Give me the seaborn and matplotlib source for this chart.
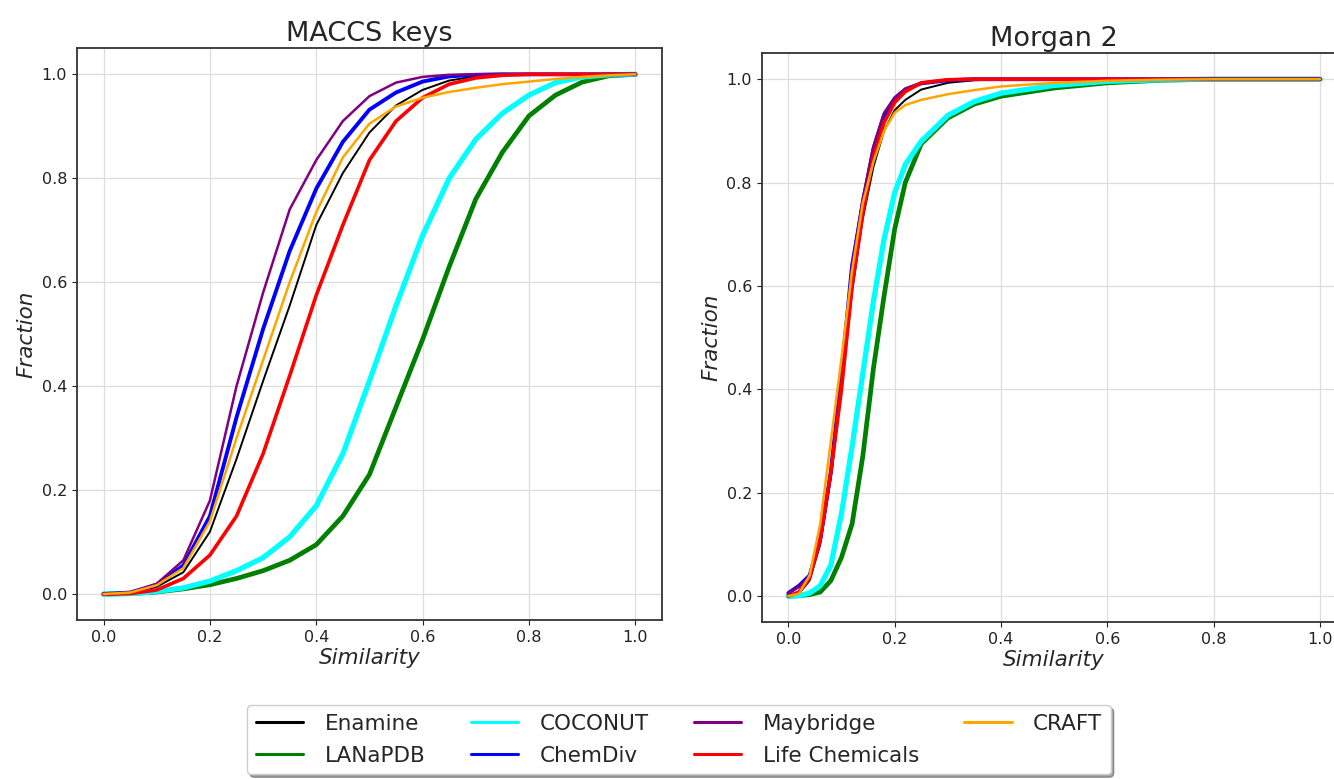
import seaborn as sns
import matplotlib
matplotlib.use("Agg")
import matplotlib.pyplot as plt
import numpy as np
import pandas as pd

# libraries in legend order
names = ['Enamine', 'LANaPDB', 'COCONUT', 'ChemDiv', 'Maybridge', 'Life Chemicals', 'CRAFT']
colors = {'Enamine': 'black', 'LANaPDB': 'green', 'COCONUT': 'cyan', 'ChemDiv': 'blue',
          'Maybridge': 'purple', 'Life Chemicals': 'red', 'CRAFT': 'orange'}
lws = {'Enamine': 1.4, 'LANaPDB': 3.4, 'COCONUT': 3.8, 'ChemDiv': 2.8,
       'Maybridge': 1.8, 'Life Chemicals': 2.6, 'CRAFT': 1.8}

# MACCS keys: cumulative fraction read at these similarity values
x_maccs = [0, 0.05, 0.1, 0.15, 0.2, 0.25, 0.3, 0.35, 0.4, 0.45, 0.5,
           0.55, 0.6, 0.65, 0.7, 0.75, 0.8, 0.85, 0.9, 0.95, 1.0]
maccs_enamine = [0, 0.002, 0.014, 0.042, 0.12, 0.26, 0.41, 0.555, 0.71, 0.81, 0.888,
                 0.94, 0.97, 0.988, 0.996, 1.0, 1.0, 1.0, 1.0, 1.0, 1.0]
maccs_lanapdb = [0, 0.001, 0.004, 0.01, 0.018, 0.03, 0.045, 0.065, 0.095, 0.15, 0.23,
                 0.36, 0.49, 0.63, 0.76, 0.85, 0.92, 0.96, 0.985, 0.997, 1.0]
maccs_coconut = [0, 0.001, 0.005, 0.012, 0.025, 0.045, 0.07, 0.11, 0.17, 0.27, 0.41,
                 0.555, 0.69, 0.8, 0.875, 0.925, 0.96, 0.984, 0.995, 0.999, 1.0]
maccs_chemdiv = [0, 0.003, 0.018, 0.055, 0.15, 0.34, 0.51, 0.66, 0.78, 0.87, 0.932,
                 0.965, 0.986, 0.996, 0.999, 1.0, 1.0, 1.0, 1.0, 1.0, 1.0]
maccs_maybridge = [0, 0.003, 0.02, 0.065, 0.18, 0.4, 0.58, 0.74, 0.835, 0.91, 0.958,
                   0.984, 0.995, 0.999, 1.0, 1.0, 1.0, 1.0, 1.0, 1.0, 1.0]
maccs_lifechem = [0, 0.001, 0.008, 0.03, 0.075, 0.15, 0.27, 0.42, 0.575, 0.71, 0.835,
                  0.91, 0.955, 0.981, 0.993, 0.998, 1.0, 1.0, 1.0, 1.0, 1.0]
maccs_craft = [0, 0.003, 0.017, 0.05, 0.14, 0.3, 0.45, 0.6, 0.735, 0.84, 0.905,
               0.938, 0.955, 0.966, 0.974, 0.981, 0.986, 0.991, 0.995, 0.998, 1.0]

# Morgan 2
x_morgan = [0, 0.02, 0.04, 0.06, 0.08, 0.1, 0.12, 0.14, 0.16, 0.18, 0.2,
            0.22, 0.25, 0.3, 0.35, 0.4, 0.5, 0.6, 0.7, 0.8, 1.0]
morgan_enamine = [0, 0.005, 0.03, 0.1, 0.23, 0.4, 0.59, 0.73, 0.83, 0.9, 0.94,
                  0.96, 0.98, 0.993, 0.998, 1.0, 1.0, 1.0, 1.0, 1.0, 1.0]
morgan_lanapdb = [0, 0.001, 0.003, 0.008, 0.03, 0.075, 0.14, 0.27, 0.44, 0.58, 0.71,
                  0.8, 0.875, 0.925, 0.952, 0.967, 0.983, 0.993, 0.998, 1.0, 1.0]
morgan_coconut = [0, 0.001, 0.006, 0.02, 0.06, 0.16, 0.29, 0.43, 0.57, 0.69, 0.78,
                  0.835, 0.88, 0.93, 0.957, 0.973, 0.988, 0.996, 0.999, 1.0, 1.0]
morgan_chemdiv = [0.006, 0.02, 0.04, 0.11, 0.24, 0.43, 0.64, 0.76, 0.865, 0.93, 0.962,
                  0.98, 0.992, 0.998, 1.0, 1.0, 1.0, 1.0, 1.0, 1.0, 1.0]
morgan_maybridge = [0.006, 0.018, 0.038, 0.105, 0.24, 0.43, 0.64, 0.77, 0.87, 0.935, 0.965,
                    0.982, 0.993, 0.999, 1.0, 1.0, 1.0, 1.0, 1.0, 1.0, 1.0]
morgan_lifechem = [0, 0.008, 0.035, 0.11, 0.24, 0.4, 0.6, 0.74, 0.85, 0.916, 0.955,
                   0.976, 0.993, 0.999, 1.0, 1.0, 1.0, 1.0, 1.0, 1.0, 1.0]
morgan_craft = [0, 0.005, 0.04, 0.14, 0.3, 0.46, 0.63, 0.76, 0.84, 0.9, 0.935,
                0.95, 0.96, 0.971, 0.979, 0.986, 0.993, 0.997, 0.999, 1.0, 1.0]

maccs = [maccs_enamine, maccs_lanapdb, maccs_coconut, maccs_chemdiv,
         maccs_maybridge, maccs_lifechem, maccs_craft]
morgan = [morgan_enamine, morgan_lanapdb, morgan_coconut, morgan_chemdiv,
          morgan_maybridge, morgan_lifechem, morgan_craft]


def make_df(xs, series):
    rows = []
    for name, ys in zip(names, series):
        for x, y in zip(xs, ys):
            rows.append((name, x, y))
    return pd.DataFrame(rows, columns=['library', 'Similarity', 'Fraction'])


df_maccs = make_df(x_maccs, maccs)
df_morgan = make_df(x_morgan, morgan)

sns.set_style("ticks")
plt.rcParams['font.family'] = ['DejaVu Sans']

fig = plt.figure(figsize=(13.34, 7.79), dpi=100)
ax1 = fig.add_axes([0.0577, 0.204, 0.4385, 0.734])
ax2 = fig.add_axes([0.571, 0.2015, 0.4385, 0.730])


def panel(ax, df, title0):
    for name in names:
        sub = df[df['library'] == name]
        sns.lineplot(data=sub, x='Similarity', y='Fraction', ax=ax, color=colors[name],
                     linewidth=lws[name], label=name, legend=False, estimator=None)
    ax.set_xlim(-0.05, 1.05)
    ax.set_ylim(-0.05, 1.05)
    ax.set_xticks(np.arange(0, 1.01, 0.2))
    ax.set_yticks(np.arange(0, 1.01, 0.2))
    ax.grid(True, color='#dddddd', linewidth=0.9)
    ax.set_axisbelow(True)
    ax.tick_params(labelsize=11.5, colors='#222222')
    ax.set_xlabel('Similarity', fontsize=15.5, style='italic', labelpad=2)
    ax.set_ylabel('Fraction', fontsize=15.5, style='italic')
    ax.set_title(title0, fontsize=19.5, pad=5)
    for s in ax.spines.values():
        s.set_color('#333333')
        s.set_linewidth(1.3)


panel(ax1, df_maccs, 'MACCS keys')
panel(ax2, df_morgan, 'Morgan 2')

handles, labels = ax1.get_legend_handles_labels()
leg = fig.legend(handles, labels, loc='lower center', bbox_to_anchor=(0.509, -0.008),
                 ncol=4, fontsize=15.5, shadow=True, fancybox=True, frameon=True,
                 columnspacing=2.1, handlelength=2.2, handletextpad=1.0,
                 labelspacing=0.55, borderpad=0.4)
for line in leg.get_lines():
    line.set_linewidth(2.2)

fig.savefig('out.png', dpi=100)
